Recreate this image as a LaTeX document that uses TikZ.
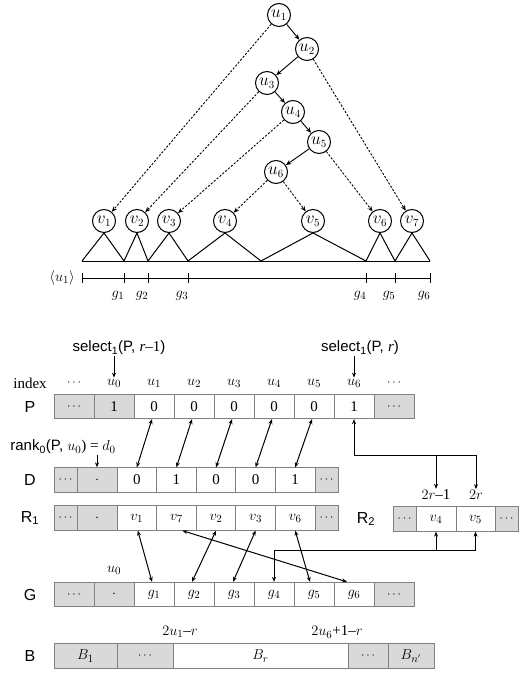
\documentclass[tikz,border=0pt]{standalone}
\usepackage{fontspec}
\setmainfont{Liberation Serif}
\setsansfont{Liberation Sans}
\usetikzlibrary{arrows.meta,calc}
\newcommand{\dts}{{\fontsize{12}{12}\selectfont$\cdots$}}
\begin{document}
\begin{tikzpicture}[x=1pt,y=-1pt,
  tnode/.style={circle,draw,line width=1pt,minimum size=23pt,inner sep=0pt,font=\fontsize{16}{16}\selectfont},
  tarr/.style={-{Stealth[length=5.5pt,width=4.5pt]},line width=0.9pt},
  darr/.style={tarr,dash pattern=on 2.2pt off 1.6pt},
  tri/.style={line width=1pt},
  cellwh/.style={draw=black!50,line width=0.8pt,fill=white,minimum height=24.5pt,inner sep=0pt,font=\fontsize{15}{15}\selectfont},
  cellgr/.style={cellwh,fill=black!15},
  lab/.style={font=\sffamily\fontsize{16}{16}\selectfont},
  txt/.style={font=\fontsize{15}{15}\selectfont,inner sep=1pt},
  sarr/.style={-{Stealth[length=5pt,width=4pt]},line width=1pt},
  barr/.style={{Stealth[length=5pt,width=4pt]}-{Stealth[length=5pt,width=4pt]},line width=1pt},
  wline/.style={line width=1pt}]
\useasboundingbox (0,0) rectangle (519,676);
% ---------------- tree ----------------
\node[tnode] (u1) at (279,15) {$u_1$};
\node[tnode] (u2) at (307,49) {$u_2$};
\node[tnode] (u3) at (267,83) {$u_3$};
\node[tnode] (u4) at (293,112) {$u_4$};
\node[tnode] (u5) at (319,142) {$u_5$};
\node[tnode] (u6) at (276,172) {$u_6$};
\node[tnode] (v1) at (104,221) {$v_1$};
\node[tnode] (v2) at (137,221) {$v_2$};
\node[tnode] (v3) at (169,221) {$v_3$};
\node[tnode] (v4) at (225,221) {$v_4$};
\node[tnode] (v5) at (313,221) {$v_5$};
\node[tnode] (v6) at (380,221) {$v_6$};
\node[tnode] (v7) at (412,221) {$v_7$};
\draw[tarr] (u1) -- (u2);
\draw[tarr] (u2) -- (u3);
\draw[tarr] (u3) -- (u4);
\draw[tarr] (u4) -- (u5);
\draw[tarr] (u5) -- (u6);
\draw[darr] (u1) -- (v1);
\draw[darr] (u2) -- (v7);
\draw[darr] (u3) -- (v2);
\draw[darr] (u4) -- (v3);
\draw[darr] (u5) -- (v6);
\draw[darr] (u6) -- (v4);
\draw[darr] (u6) -- (v5);
\coordinate (b0) at (82,261);
\coordinate (b1) at (124,261);
\coordinate (b2) at (148,261);
\coordinate (b3) at (188,261);
\coordinate (b4) at (261,261);
\coordinate (b5) at (366,261);
\coordinate (b6) at (395,261);
\coordinate (b7) at (430,261);
\draw[tri] (b0) -- (v1.south) -- (b1);
\draw[tri] (b1) -- (v2.south) -- (b2);
\draw[tri] (b2) -- (v3.south) -- (b3);
\draw[tri] (b3) -- (v4.south) -- (b4);
\draw[tri] (b4) -- (v5.south) -- (b5);
\draw[tri] (b5) -- (v6.south) -- (b6);
\draw[tri] (b6) -- (v7.south) -- (b7);
\draw[tri] (b0) -- (b7);
% interval
\node[txt] (iu) at (62,278) {$\langle u_1\rangle$};
\draw[wline] (82,278) -- (430,278);
\foreach \x in {82,124,148,188,366,395,430} \draw[wline] (\x,273) -- (\x,283);
\foreach \x/\i in {124/1,148/2,188/3,366/4,395/5,430/6}
  \node[txt] (gl\i) at (\x-6,296) {$g_{\i}$};
% ---------------- arrays ----------------
\node[txt] (selA) at (119,348) {\sffamily select\textsubscript{1}(P, \rmfamily\textit{r}–1\sffamily)};
\node[txt] (selB) at (360,348) {\sffamily select\textsubscript{1}(P, \rmfamily\textit{r}\sffamily)};
\node[txt] (idx) at (30,383) {index};
\node[txt] (i0) at (74,383) {\dts};
\node[txt] (i1) at (114,383) {$u_0$};
\node[txt] (i2) at (154,383) {$u_1$};
\node[txt] (i3) at (194,383) {$u_2$};
\node[txt] (i4) at (234,383) {$u_3$};
\node[txt] (i5) at (274,383) {$u_4$};
\node[txt] (i6) at (314,383) {$u_5$};
\node[txt] (i7) at (354,383) {$u_6$};
\node[txt] (i8) at (394,383) {\dts};
\draw[sarr] (selA.south -| i1) -- (i1.north);
\draw[sarr] (selB.south -| i7) -- (i7.north);
% P
\node[lab] (Pl) at (30,406.5) {P};
\foreach \t [count=\k] in {\dts,1,0,0,0,0,0,1,\dts}{
  \ifnum\k<3 \node[cellgr,minimum width=40pt] (P\k) at (34+40*\k,406.5) {\t};
  \else\ifnum\k=9 \node[cellgr,minimum width=40pt] (P\k) at (34+40*\k,406.5) {\t};
  \else \node[cellwh,minimum width=40pt] (P\k) at (34+40*\k,406.5) {\t};\fi\fi}
% rank label
\node[txt] (rk) at (63,447) {\sffamily rank\textsubscript{0}(P, \rmfamily$u_0$) = $d_0$};
% D and R1
\node[lab] (Dl) at (30,480) {D};
\node[lab] (R1l) at (30,518) {R\textsubscript{1}};
\node[cellgr,minimum width=23pt] (D1) at (65.5,480) {\dts};
\node[cellgr,minimum width=40pt] (D2) at (97,480) {$\cdot$};
\node[cellgr,minimum width=23pt] (R1) at (65.5,518) {\dts};
\node[cellgr,minimum width=40pt] (R2) at (97,518) {$\cdot$};
\foreach \t/\v [count=\k from 3] in {0/v_1,1/v_7,0/v_2,0/v_3,1/v_6}{
  \node[cellwh,minimum width=39.6pt] (D\k) at (18+39.6*\k,480) {\t};
  \node[cellwh,minimum width=39.6pt] (R\k) at (18+39.6*\k,518) {$\v$};}
\node[cellgr,minimum width=23pt] (D8) at (326.5,480) {\dts};
\node[cellgr,minimum width=23pt] (R8) at (326.5,518) {\dts};
\draw[sarr] (rk.south -| D2) -- (D2.north);
% P-D arrows
\foreach \k in {3,...,7} \draw[barr] ([xshift=-2pt]P\k.south) -- (D\k.north);
% R2
\node[lab] (R2l) at (366,519) {R\textsubscript{2}};
\node[cellgr,minimum width=23pt] (S1) at (404.5,519) {\dts};
\node[cellwh,minimum width=40pt] (S2) at (436,519) {$v_4$};
\node[cellwh,minimum width=39pt] (S3) at (475.5,519) {$v_5$};
\node[cellgr,minimum width=23pt] (S4) at (506.5,519) {\dts};
\node[txt] (tr1) at (436,495) {$2r$–1};
\node[txt] (tr2) at (476,495) {$2r$};
\coordinate (j1) at (354,455);
\draw[barr] (P8.south) -- (j1) -| (tr2.north);
\draw[sarr] (tr1 |- j1) -- (tr1.north);
% G
\node[lab] (Gl) at (30,594.5) {G};
\node[txt] (gu0) at (114,570) {$u_0$};
\foreach \t [count=\k] in {\dts,$\cdot$,$g_1$,$g_2$,$g_3$,$g_4$,$g_5$,$g_6$,\dts}{
  \ifnum\k<3 \node[cellgr,minimum width=40pt] (G\k) at (34+40*\k,594.5) {\t};
  \else\ifnum\k=9 \node[cellgr,minimum width=40pt] (G\k) at (34+40*\k,594.5) {\t};
  \else \node[cellwh,minimum width=40pt] (G\k) at (34+40*\k,594.5) {\t};\fi\fi}
% R1-G arrows
\draw[barr] ([xshift=1pt]R3.south) -- ([xshift=-2pt]G3.north);
\draw[barr] ([xshift=6pt]R4.south) -- ([xshift=-7pt]G8.north);
\draw[barr] (R5.south) -- ([xshift=-2pt]G4.north);
\draw[barr] (R6.south) -- ([xshift=-1pt]G5.north);
\draw[barr] (R7.south) -- ([xshift=-4pt]G7.north);
% R2-G connector
\coordinate (j2) at (274,550);
\draw[barr] (G6.north) -- (j2) -| (S3.south);
\draw[sarr] (S2 |- j2) -- (S2.south);
% B
\node[lab] (Bl) at (30,656) {B};
\node[cellgr,minimum width=63pt] (B1) at (85.5,656) {$B_1$};
\node[cellgr,minimum width=56pt] (B2) at (145,656) {\dts};
\node[cellwh,minimum width=175pt] (B3) at (260.5,656) {$B_r$};
\node[cellgr,minimum width=40pt] (B4) at (368,656) {\dts};
\node[cellgr,minimum width=46pt] (B5) at (411,656) {$B_{n'}$};
\node[txt] (bl1) at (180,632) {$2u_1$–$r$};
\node[txt] (bl2) at (337,632) {$2u_6$+1–$r$};
\end{tikzpicture}
\end{document}
